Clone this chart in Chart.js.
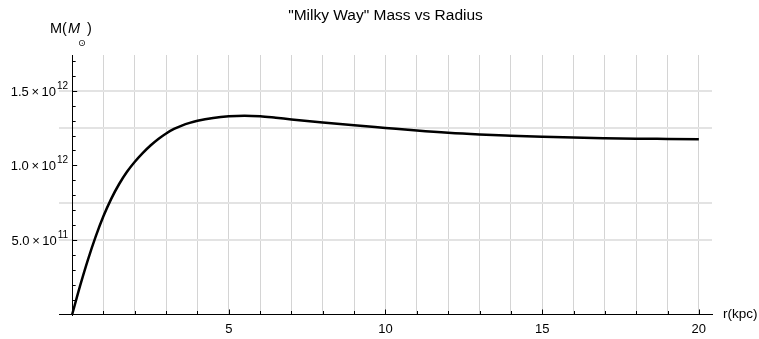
<!DOCTYPE html>
<html>
<head>
<meta charset="utf-8">
<script src="https://cdn.jsdelivr.net/npm/chart.js@4.4.1/dist/chart.umd.min.js"></script>
<style>
  html, body { margin: 0; padding: 0; background: #fff; }
  #wrap { width: 759px; height: 339px; }
</style>
</head>
<body>
<div id="wrap"><canvas id="grafico" width="759" height="339"></canvas></div>
<script>
// radius in kpc, mass in solar masses
const radius = [0, 0.25, 0.5, 0.75, 1, 1.25, 1.5, 1.75, 2, 2.25, 2.5, 2.75, 3, 3.25, 3.5, 3.75, 4, 4.5, 5, 5.5, 6, 6.5, 7, 8, 9, 10, 11, 12, 13, 14, 15, 16, 17, 18, 19, 20];
const mass = [0, 0.19e12, 0.365e12, 0.522e12, 0.66e12, 0.777e12, 0.875e12, 0.957e12, 1.024e12, 1.082e12, 1.133e12, 1.177e12, 1.214e12, 1.244e12, 1.267e12, 1.285e12, 1.299e12, 1.318e12, 1.329e12, 1.333e12, 1.329e12, 1.319e12, 1.308e12, 1.288e12, 1.269e12, 1.251e12, 1.233e12, 1.218e12, 1.207e12, 1.199e12, 1.192e12, 1.186e12, 1.182e12, 1.179e12, 1.177e12, 1.175e12];

const xTicks = [1, 2, 3, 4, 5, 6, 7, 8, 9, 10, 11, 12, 13, 14, 15, 16, 17, 18, 19, 20];
const xLabels = [5, 10, 15, 20];
const yTicks = [1e11, 2e11, 3e11, 4e11, 5e11, 6e11, 7e11, 8e11, 9e11, 1e12, 1.1e12, 1.2e12, 1.3e12, 1.4e12, 1.5e12, 1.6e12, 1.7e12];
const yLabels = [5e11, 1e12, 1.5e12];
const yGridLines = [5e11, 7.5e11, 1.25e12, 1.5e12];

const FONT = '"Liberation Sans", Arial, Helvetica, sans-serif';

const textPlugin = {
    id: 'texts',
    afterDraw(chart) {
        const ctx = chart.ctx;
        const xs = chart.scales.x, ys = chart.scales.y;
        const area = chart.chartArea;
        const yAxisPx = xs.getPixelForValue(0);
        const xAxisPx = ys.getPixelForValue(0);
        ctx.save();
        ctx.strokeStyle = '#000';
        ctx.fillStyle = '#000';
        ctx.lineWidth = 1;

        // inward tick marks
        for (const v of xTicks) {
            const px = Math.round(xs.getPixelForValue(v)) + 0.5;
            const len = v % 5 === 0 ? 5 : 3.5;
            ctx.beginPath(); ctx.moveTo(px, xAxisPx); ctx.lineTo(px, xAxisPx - len); ctx.stroke();
        }
        for (const v of yTicks) {
            const py = Math.round(ys.getPixelForValue(v)) + 0.5;
            const len = Math.abs(v % 5e11) < 1 ? 5 : 3.5;
            ctx.beginPath(); ctx.moveTo(yAxisPx, py); ctx.lineTo(yAxisPx + len, py); ctx.stroke();
        }

        // x tick labels
        ctx.font = '13px ' + FONT;
        ctx.textAlign = 'center';
        ctx.textBaseline = 'alphabetic';
        for (const v of xLabels) {
            ctx.fillText(String(v), xs.getPixelForValue(v), xAxisPx + 18);
        }

        // y tick labels with superscript exponent
        for (const v of yLabels) {
            const ex = Math.floor(Math.log10(v));
            const main = (v / Math.pow(10, ex)).toFixed(1) + '\u2009\u00d7\u200910';
            const sup = String(ex);
            const py = ys.getPixelForValue(v);
            ctx.font = '10px ' + FONT;
            const wSup = ctx.measureText(sup).width;
            ctx.font = '13px ' + FONT;
            const wMain = ctx.measureText(main).width;
            const right = yAxisPx - 4;
            ctx.textAlign = 'left';
            ctx.fillText(main, right - wSup - 1 - wMain, py + 4.8);
            ctx.font = '10px ' + FONT;
            ctx.fillText(sup, right - wSup, py - 2);
        }

        // title
        ctx.font = '15.5px ' + FONT;
        ctx.textAlign = 'center';
        ctx.fillText('"Milky Way" Mass vs Radius', (area.left + area.right) / 2, 19.5);

        // y axis label M(M_sun)
        ctx.textAlign = 'left';
        let x = 50;
        ctx.font = '14.5px ' + FONT;
        ctx.fillText('M(', x, 32.5); x += ctx.measureText('M(').width + 1;
        ctx.font = 'italic 14.5px ' + FONT;
        ctx.fillText('M', x, 32.5); x += ctx.measureText('M').width;
        ctx.font = '9.5px "DejaVu Sans", ' + FONT;
        ctx.fillText('\u2299', x - 2, 46); x += ctx.measureText('\u2299').width - 1;
        ctx.font = '14.5px ' + FONT;
        ctx.fillText(')', x, 32.5);

        // x axis label
        ctx.font = '13.5px ' + FONT;
        ctx.textBaseline = 'middle';
        ctx.fillText('r(kpc)', 723, xAxisPx);
        ctx.restore();
    }
};

window.onload = () => {
    const grf = document.getElementById('grafico').getContext('2d');

    const data = {
        datasets: [{
            data: radius.map((r, i) => ({ x: r, y: mass[i] })),
            borderColor: '#000',
            borderWidth: 2.5,
            pointRadius: 0,
            fill: false,
            cubicInterpolationMode: 'monotone'
        }]
    };

    const options = {
        responsive: false,
        animation: false,
        layout: { padding: { left: 59, right: 47, top: 55, bottom: 24.5 } },
        plugins: { legend: { display: false }, tooltip: { enabled: false } },
        scales: {
            x: {
                type: 'linear',
                min: -0.42,
                max: 20.42,
                afterBuildTicks: (scale) => { scale.ticks = xTicks.map(v => ({ value: v })); },
                ticks: { display: false },
                grid: { color: '#d4d4d4', lineWidth: 1, drawTicks: false },
                border: { color: '#000', width: 1 }
            },
            y: {
                type: 'linear',
                min: 0,
                max: 1.74e12,
                position: { x: 0 },
                afterBuildTicks: (scale) => { scale.ticks = yGridLines.map(v => ({ value: v })); },
                ticks: { display: false },
                grid: { color: '#e3e3e3', lineWidth: 2, drawTicks: false },
                border: { color: '#000', width: 1 }
            }
        }
    };

    new Chart(grf, {
        type: 'line',
        data: data,
        options: options,
        plugins: [textPlugin]
    });
};
</script>
</body>
</html>
